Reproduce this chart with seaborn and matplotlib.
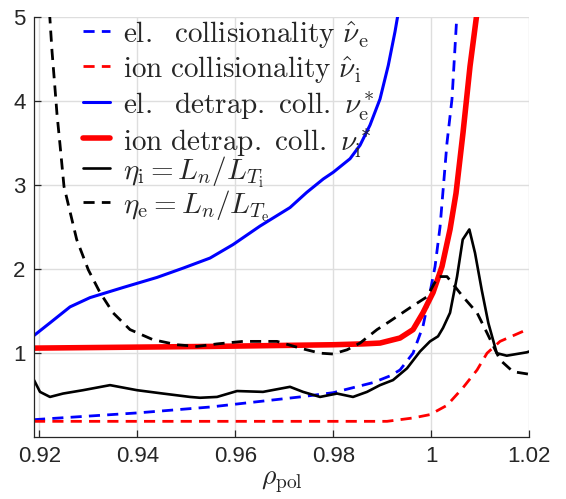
import matplotlib
matplotlib.use("Agg")
import matplotlib.pyplot as plt
import seaborn as sns

sns.set_theme(style="white")
plt.rcParams["font.family"] = ["Liberation Sans", "DejaVu Sans"]
plt.rcParams["mathtext.fontset"] = "cm"

# ---- data ----
x_nue = [0.91892, 0.94000, 0.95484, 0.97320, 0.97994, 0.98810, 0.99157, 0.99361,
         0.99627, 0.99830, 0.99973, 1.00076, 1.00178, 1.00320, 1.00422, 1.00525]
y_nue = [0.21, 0.29, 0.36, 0.48, 0.53, 0.65, 0.73, 0.80,
         1.00, 1.32, 1.72, 2.03, 2.50, 3.50, 4.02, 5.05]

x_nui = [0.91892, 0.98000, 0.99096, 0.99627, 0.99973, 1.00320, 1.00647, 1.00933,
         1.01137, 1.01402, 1.01953, 1.02000]
y_nui = [0.19, 0.19, 0.19, 0.23, 0.27, 0.38, 0.59, 0.80,
         1.00, 1.14, 1.28, 1.29]

x_nue_star = [0.91892, 0.92218, 0.92627, 0.93035, 0.93708, 0.94402, 0.94933, 0.95484,
              0.95953, 0.96504, 0.97116, 0.97457, 0.97796, 0.98000, 0.98341, 0.98545,
              0.98749, 0.98953, 0.99122, 0.99259, 0.99327]
y_nue_star = [1.21, 1.36, 1.55, 1.66, 1.78, 1.90, 2.01, 2.13,
              2.29, 2.51, 2.73, 2.91, 3.07, 3.15, 3.31, 3.47,
              3.71, 4.02, 4.42, 4.82, 5.05]

x_nui_star = [0.91892, 0.95484, 0.97994, 0.98600, 0.98953, 0.99361, 0.99627, 0.99830,
              1.00035, 1.00218, 1.00382, 1.00504, 1.00647, 1.00790, 1.00933]
y_nui_star = [1.06, 1.08, 1.10, 1.11, 1.12, 1.18, 1.28, 1.48,
              1.72, 2.03, 2.47, 2.90, 3.62, 4.41, 5.05]

x_etai = [0.91892, 0.92014, 0.92218, 0.92484, 0.92892, 0.93443, 0.93994, 0.94524,
          0.95075, 0.95280, 0.95627, 0.96035, 0.96565, 0.97116, 0.97382, 0.97729,
          0.98076, 0.98402, 0.98688, 0.98953, 0.99218, 0.99504, 0.99769, 0.99973,
          1.00137, 1.00239, 1.00382, 1.00525, 1.00641, 1.00776, 1.00892, 1.01029,
          1.01163, 1.01335, 1.01539, 1.01947, 1.02000]
y_etai = [0.68, 0.54, 0.48, 0.52, 0.56, 0.62, 0.56, 0.52,
          0.48, 0.47, 0.48, 0.55, 0.54, 0.60, 0.54, 0.48,
          0.52, 0.48, 0.54, 0.62, 0.68, 0.82, 1.02, 1.14,
          1.20, 1.30, 1.48, 1.91, 2.35, 2.47, 2.19, 1.75,
          1.36, 1.00, 0.97, 1.01, 1.02]

x_etae = [0.92208, 0.92259, 0.92310, 0.92361, 0.92422, 0.92504, 0.92763, 0.93000,
          0.93239, 0.93504, 0.93851, 0.94320, 0.94810, 0.95218, 0.95627, 0.96157,
          0.96851, 0.97320, 0.97729, 0.97994, 0.98280, 0.98545, 0.98892, 0.99157,
          0.99565, 0.99912, 1.00137, 1.00320, 1.00647, 1.00933, 1.01137, 1.01402,
          1.01667, 1.01994]
y_etae = [5.05, 4.59, 4.22, 3.84, 3.48, 2.98, 2.35, 1.99,
          1.72, 1.48, 1.28, 1.16, 1.10, 1.08, 1.11, 1.14,
          1.14, 1.06, 1.00, 0.99, 1.04, 1.12, 1.28, 1.38,
          1.54, 1.67, 1.91, 1.91, 1.67, 1.48, 1.24, 0.92,
          0.78, 0.75]

labels = [
    r"$\mathrm{el.\ \ collisionality}\ \hat{\nu}_{\mathrm{e}}$",
    r"$\mathrm{ion\ collisionality}\ \hat{\nu}_{\mathrm{i}}$",
    r"$\mathrm{el.\ \ detrap.\ coll.}\ \nu^*_{\mathrm{e}}$",
    r"$\mathrm{ion\ detrap.\ coll.}\ \nu^*_{\mathrm{i}}$",
    r"$\eta_{\mathrm{i}} = L_n/L_{T_{\mathrm{i}}}$",
    r"$\eta_{\mathrm{e}} = L_n/L_{T_{\mathrm{e}}}$",
]
x_ticks = [0.92, 0.94, 0.96, 0.98, 1.0, 1.02]
x_ticklabels = ["0.92", "0.94", "0.96", "0.98", "1", "1.02"]
y_ticks = [1, 2, 3, 4, 5]

fig = plt.figure(figsize=(5.66, 4.99), dpi=100)
ax = fig.add_axes([0.0601, 0.1236, 0.8751, 0.8433])

dash = (0, (4, 2.6))
series = [
    (x_nue, y_nue, "#0000ff", 2.0, dash),
    (x_nui, y_nui, "#ff0000", 2.0, dash),
    (x_nue_star, y_nue_star, "#0000ff", 2.2, "-"),
    (x_nui_star, y_nui_star, "#ff0000", 4.0, "-"),
    (x_etai, y_etai, "#000000", 1.9, "-"),
    (x_etae, y_etae, "#000000", 2.0, dash),
]
for (xs, ys, c, lw, ls), lab in zip(series, labels):
    sns.lineplot(x=xs, y=ys, ax=ax, color=c, linewidth=lw, linestyle=ls,
                 label=lab, sort=False, estimator=None)

ax.set_xlim(0.91892, 1.02)
ax.set_ylim(0, 5)
ax.set_xticks(x_ticks)
ax.set_xticklabels(x_ticklabels)
ax.set_yticks(y_ticks)
ax.set_yticklabels([str(v) for v in y_ticks])

ax.grid(True, color="#dedede", linewidth=1.0)
ax.set_axisbelow(True)
for s in ["top", "right"]:
    ax.spines[s].set_visible(False)
for s in ["left", "bottom"]:
    ax.spines[s].set_color("#262626")
    ax.spines[s].set_linewidth(0.9)
ax.tick_params(direction="in", length=5, width=0.9, color="#262626",
               labelsize=16, labelcolor="#262626", pad=6,
               left=True, bottom=True, top=False, right=False)

ax.set_xlabel(r"$\rho_{\mathrm{pol}}$", fontsize=20, color="#262626", labelpad=2)

h, l = ax.get_legend_handles_labels()
leg_kw = dict(loc="upper left", frameon=False, fontsize=21, handlelength=0.93,
              handletextpad=0.45, handleheight=1.0, borderpad=0, borderaxespad=0)
leg1 = ax.legend(h[:4], l[:4], bbox_to_anchor=(0.099, 0.993),
                 labelspacing=0.14, **leg_kw)
ax.add_artist(leg1)
ax.legend(h[4:], l[4:], bbox_to_anchor=(0.099, 0.673),
          labelspacing=-0.03, **leg_kw)

fig.savefig("out.png", dpi=100)
